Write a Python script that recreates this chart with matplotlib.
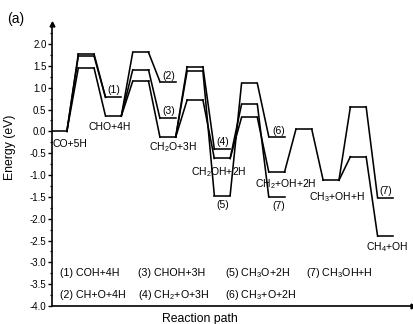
import matplotlib.pyplot as plt
from matplotlib.ticker import MultipleLocator, AutoMinorLocator

plt.rcParams["font.family"] = ["Liberation Sans", "DejaVu Sans"]
plt.rcParams["mathtext.default"] = "regular"
plt.rcParams["axes.unicode_minus"] = False

# energy levels: column on the reaction path and energy (eV)
level_col = [0, 1, 1, 1, 2, 2, 3, 3, 3, 4, 4, 4, 5, 5, 5,
             6, 6, 6, 7, 7, 7, 8, 8, 8, 9, 10, 11, 11, 12, 12]
level_e = [0.00, 1.77, 1.72, 1.45, 0.78, 0.35, 1.81, 1.41, 1.15, 1.14,
           0.30, -0.13, 1.48, 1.38, 0.72, -0.41, -0.62, -1.47, 1.10, 0.62,
           0.32, -0.12, -0.93, -1.50, 0.05, -1.12, 0.56, -0.58, -1.52, -2.40]

# connections between levels (index pairs)
links = [(0, 1), (0, 2), (0, 3), (1, 4), (2, 4), (3, 5),
         (5, 6), (5, 7), (5, 8), (6, 9), (7, 10), (8, 11),
         (11, 12), (11, 13), (11, 14), (12, 15), (13, 17), (14, 16),
         (17, 18), (18, 21), (16, 19), (16, 20), (19, 23), (20, 22),
         (22, 24), (24, 25), (25, 26), (25, 27), (26, 28), (27, 29)]

# state labels: level index, text
label_idx = [0, 5, 4, 9, 10, 11, 15, 16, 17, 21, 22, 23, 25, 28, 29]
label_txt = ["CO+5H", "CHO+4H", "(1)", "(2)", "(3)", "CH$_2$O+3H", "(4)",
             "CH$_2$OH+2H", "(5)", "(6)", "CH$_2$+OH+2H", "(7)",
             "CH$_3$+OH+H", "(7)", "CH$_4$+OH"]

legend_txt = ["(1) COH+4H", "(2) CH+O+4H", "(3) CHOH+3H", "(4) CH$_2$+O+3H",
              "(5) CH$_3$O+2H", "(6) CH$_3$+O+2H", "(7) CH$_3$OH+H"]

hw = 0.29
fig = plt.figure(figsize=(4.13, 3.24), dpi=100)
ax = fig.add_axes([0.1259, 0.0556, 0.874, 0.869])

for c, e in zip(level_col, level_e):
    ax.plot([c - hw, c + hw], [e, e], color="black", lw=1.15)
for a, b in links:
    ax.plot([level_col[a] + hw, level_col[b] - hw], [level_e[a], level_e[b]],
            color="black", lw=1.15)

# label offsets in pixels (dx, dy)
offs = [(11, -13), (-4, -11), (0, 7), (1, 6), (1, 7), (5, -10), (1, 7),
        (-4, -14), (1, -9), (2, 6), (9, -12), (2, -9), (6, -17), (0, 7),
        (-19, -11)]
for i, t, (dx, dy) in zip(label_idx, label_txt, offs):
    ha = "left" if t == "CH$_4$+OH" else "center"
    ax.annotate(t, xy=(level_col[i], level_e[i]), xytext=(dx, dy),
                textcoords="offset pixels", ha=ha, va="center",
                fontsize=7.5, annotation_clip=False)

# legend text block
leg_x = [0.022, 0.022, 0.238, 0.238, 0.479, 0.479, 0.704]
leg_y = [0.118, 0.039, 0.118, 0.039, 0.118, 0.039, 0.118]
for x, y, t in zip(leg_x, leg_y, legend_txt):
    ax.text(x, y, t, transform=ax.transAxes, ha="left", va="center",
            fontsize=7.7)

ax.set_xlim(-0.257, 13.01)
ax.set_ylim(-4.0, 2.45)
ax.yaxis.set_major_locator(MultipleLocator(0.5))
ax.yaxis.set_minor_locator(AutoMinorLocator(2))
ax.yaxis.set_major_formatter(lambda v, p: f"{v:.1f}")
ax.tick_params(axis="y", which="major", direction="out", length=3,
               width=1.0, pad=1, labelsize=7)
ax.tick_params(axis="y", which="minor", direction="out", length=1.8, width=0.9)
ax.set_xticks([])
for s in ["top", "right"]:
    ax.spines[s].set_visible(False)
for s in ["left", "bottom"]:
    ax.spines[s].set_linewidth(1.2)

# axis arrows
ax.plot(0, 1, "^k", ms=3.5, transform=ax.transAxes, clip_on=False)
ax.plot(1, 0, ">k", ms=3.5, transform=ax.transAxes, clip_on=False)

fig.text(10 / 413, 1 - 147 / 324, "Energy (eV)", rotation=90,
         ha="center", va="center", fontsize=8.8)
fig.text(200 / 413, 1 - 319 / 324, "Reaction path", ha="center",
         va="center", fontsize=8.8)
fig.text(16 / 413, 1 - 19 / 324, "(a)", ha="center", va="center",
         fontsize=10)

fig.savefig("out.png", dpi=100)
